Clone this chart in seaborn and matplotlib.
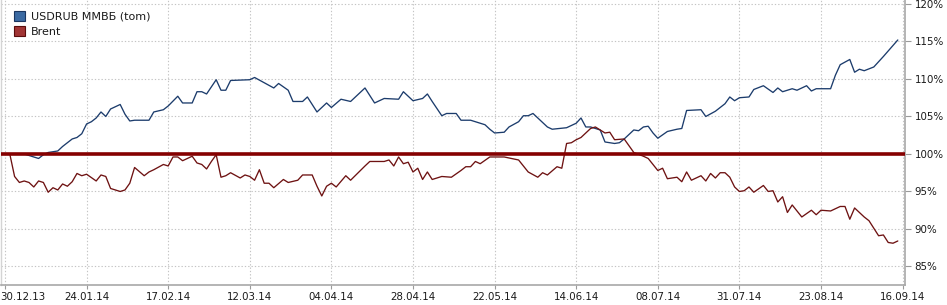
import matplotlib
matplotlib.use("Agg")
import matplotlib.pyplot as plt
import matplotlib.transforms as mtransforms
from matplotlib.patches import Patch
import seaborn as sns
import pandas as pd

# ---------------- data (trading-day index, % of start) ----------------
usd_days = [1, 4, 7, 8, 9, 11, 12, 13, 14, 15, 16, 17, 18, 19, 20, 21, 22, 24, 25, 26,
            27, 30, 31, 33, 34, 36, 37, 39, 40, 41, 42, 44, 45, 46, 47, 51, 52, 54, 56, 57,
            59, 60, 62, 63, 65, 67, 68, 70, 72, 75, 77, 79, 82, 83, 85, 87, 88, 89, 91, 92,
            94, 95, 97, 100, 101, 102, 104, 105, 107, 108, 109, 110, 111, 113, 114, 117, 119, 120, 121, 122,
            124, 125, 127, 128, 129, 131, 132, 133, 134, 135, 136, 138, 140, 141, 142, 145, 146, 148, 150, 151,
            152, 153, 155, 156, 158, 160, 161, 162, 164, 165, 167, 168, 169, 172, 173, 174, 176, 177, 178, 179,
            181, 183, 186]
usd_vals = [100.0, 100.0, 99.4, 99.9, 100.2, 100.4, 101.0, 101.5, 102.0, 102.2, 102.7, 104.0, 104.3, 104.8, 105.6, 105.0, 106.0, 106.6, 105.3, 104.4,
            104.5, 104.5, 105.6, 105.9, 106.4, 107.7, 106.8, 106.8, 108.3, 108.3, 108.0, 109.9, 108.5, 108.5, 109.8, 109.9, 110.2, 109.5, 108.8, 109.4,
            108.5, 107.0, 107.0, 107.6, 105.6, 106.8, 106.2, 107.3, 107.0, 108.8, 106.8, 107.4, 107.3, 108.3, 107.1, 107.4, 108.0, 107.0, 105.1, 105.4,
            105.4, 104.5, 104.5, 103.9, 103.3, 102.8, 102.9, 103.6, 104.3, 105.1, 105.1, 105.4, 104.8, 103.6, 103.3, 103.5, 104.1, 104.8, 103.6, 103.6,
            103.2, 101.6, 101.4, 101.5, 102.0, 103.2, 103.1, 103.6, 103.7, 102.8, 102.1, 103.0, 103.3, 103.4, 105.8, 105.9, 105.0, 105.7, 106.7, 107.6,
            107.1, 107.5, 107.6, 108.6, 109.1, 108.2, 108.8, 108.3, 108.7, 108.5, 109.1, 108.4, 108.7, 108.7, 110.5, 111.9, 112.6, 110.9, 111.3, 111.1,
            111.6, 113.0, 115.2]

brent_days = [1, 2, 3, 4, 5, 6, 7, 8, 9, 10, 11, 12, 13, 14, 15, 16, 17, 19, 20, 21,
              22, 24, 25, 26, 27, 29, 30, 31, 33, 34, 35, 36, 37, 39, 40, 41, 42, 43, 44, 45,
              46, 47, 49, 50, 51, 52, 53, 54, 55, 56, 58, 59, 61, 62, 64, 65, 66, 67, 68, 69,
              71, 72, 75, 76, 79, 80, 81, 82, 83, 84, 85, 86, 87, 88, 89, 91, 93, 95, 96, 97,
              98, 99, 101, 104, 107, 109, 111, 112, 113, 115, 116, 117, 118, 119, 120, 122, 123, 125, 126, 127,
              129, 130, 131, 133, 134, 136, 137, 138, 140, 141, 142, 143, 145, 146, 147, 148, 149, 150, 151, 152,
              153, 154, 155, 156, 158, 159, 160, 161, 162, 163, 164, 166, 168, 169, 170, 172, 174, 175, 176, 177,
              179, 180, 182, 183, 184, 185, 186]
brent_vals = [100.0, 97.0, 96.2, 96.4, 96.2, 95.6, 96.4, 96.2, 94.9, 95.5, 95.2, 96.0, 95.7, 96.3, 97.4, 97.1, 97.3, 96.4, 97.2, 97.0,
              95.4, 95.0, 95.2, 96.1, 98.2, 97.1, 97.6, 97.9, 98.6, 98.4, 99.6, 99.6, 99.1, 99.7, 98.8, 98.6, 98.0, 99.0, 99.9, 96.9,
              97.1, 97.5, 96.8, 97.2, 97.0, 96.5, 97.9, 96.1, 96.1, 95.5, 96.6, 96.2, 96.5, 97.2, 97.2, 95.7, 94.4, 95.7, 96.1, 95.6,
              97.1, 96.5, 98.4, 99.0, 99.0, 99.2, 98.4, 99.6, 98.7, 98.9, 97.6, 98.1, 96.6, 97.6, 96.6, 97.0, 96.9, 97.8, 98.3, 98.3,
              99.0, 98.7, 99.6, 99.6, 99.2, 97.6, 96.9, 97.5, 97.2, 98.3, 98.1, 101.4, 101.5, 101.9, 102.2, 103.4, 103.6, 102.8, 102.9, 101.9,
              102.0, 101.1, 100.2, 99.7, 99.4, 97.8, 98.1, 96.7, 96.9, 96.3, 97.6, 96.5, 97.1, 96.4, 97.4, 96.8, 97.5, 97.5, 96.9, 95.6,
              95.0, 95.1, 95.6, 94.9, 95.8, 95.0, 95.1, 93.6, 94.3, 92.2, 93.2, 91.6, 92.5, 91.9, 92.5, 92.4, 93.0, 93.0, 91.3, 92.8,
              91.6, 91.1, 89.1, 89.2, 88.2, 88.1, 88.4]

series_names = ["USDRUB ММВБ (tom)", "Brent"]
tick_days = [0, 17, 34, 51, 68, 85, 102, 119, 136, 153, 170, 187]
tick_labels = ["30.12.13", "24.01.14", "17.02.14", "12.03.14", "04.04.14", "28.04.14",
               "22.05.14", "14.06.14", "08.07.14", "31.07.14", "23.08.14", "16.09.14"]
y_ticks = [85, 90, 95, 100, 105, 110, 115, 120]
base_level = 100

# ---------------- styling ----------------
sns.set_theme(style="white")
plt.rcParams["font.family"] = ["DejaVu Sans"]

df = pd.concat([
    pd.DataFrame({"day": usd_days, "value": usd_vals, "series": series_names[0]}),
    pd.DataFrame({"day": brent_days, "value": brent_vals, "series": series_names[1]}),
], ignore_index=True)

line_colors = {series_names[0]: "#1c3c6c", series_names[1]: "#6e1212"}

fig = plt.figure(figsize=(9.47, 3.05), dpi=100)
ax = fig.add_axes([1 / 947, 20 / 305, 904 / 947, 285 / 305])
ax.set_facecolor("white")

grid_kw = dict(color="#c4c4c4", linestyle=(0, (1.2, 1.8)), linewidth=0.8)
for d in tick_days:
    ax.axvline(d, zorder=0, **grid_kw)
for v in y_ticks:
    ax.axhline(v, zorder=0, **grid_kw)

sns.lineplot(data=df, x="day", y="value", hue="series", palette=line_colors,
             linewidth=0.95, estimator=None, sort=True, legend=False, ax=ax, zorder=3)

ax.axhline(base_level, color="#850000", linewidth=2.6, zorder=4)

ax.set_xlim(-0.83, 187.5)
ax.set_ylim(82.53, 120.53)

ax.set_xticks(tick_days)
ax.set_xticklabels(tick_labels)
ax.set_yticks(y_ticks)
ax.set_yticklabels([f"{v}%" for v in y_ticks])
ax.yaxis.tick_right()
ax.set_xlabel("")
ax.set_ylabel("")

ax.tick_params(axis="x", which="both", bottom=True, length=3, width=0.8, color="#9a9a9a",
               pad=2, labelsize=7.4, labelcolor="#1a1a1a")
ax.tick_params(axis="y", which="both", right=True, left=False, length=4, width=0.8,
               color="#9a9a9a", pad=3, labelsize=7.4, labelcolor="#1a1a1a")

# first date label starts at the left edge
first = ax.get_xticklabels()[0]
first.set_horizontalalignment("left")
first.set_transform(first.get_transform() + mtransforms.ScaledTranslation(-5 / 100, 0, fig.dpi_scale_trans))

ax.spines["top"].set_visible(False)
ax.spines["right"].set_color("#a8a8a8")
ax.spines["right"].set_linewidth(1.2)
ax.spines["bottom"].set_color("#a8a8a8")
ax.spines["bottom"].set_linewidth(1.2)
ax.spines["left"].set_color("#d4d4d4")
ax.spines["left"].set_linewidth(1.0)

handles = [Patch(facecolor="#3b6aa3", edgecolor="#1b3660", linewidth=0.8),
           Patch(facecolor="#a13535", edgecolor="#5a0e0e", linewidth=0.8)]
leg = ax.legend(handles, series_names, loc="upper left", bbox_to_anchor=(13 / 904, 1 - 11 / 285),
                frameon=False, fontsize=8, handlelength=1.0, handleheight=1.0,
                handletextpad=0.5, labelspacing=0.38, borderpad=0, borderaxespad=0)
for t in leg.get_texts():
    t.set_color("#1a1a1a")

fig.savefig("out.png", dpi=100)
